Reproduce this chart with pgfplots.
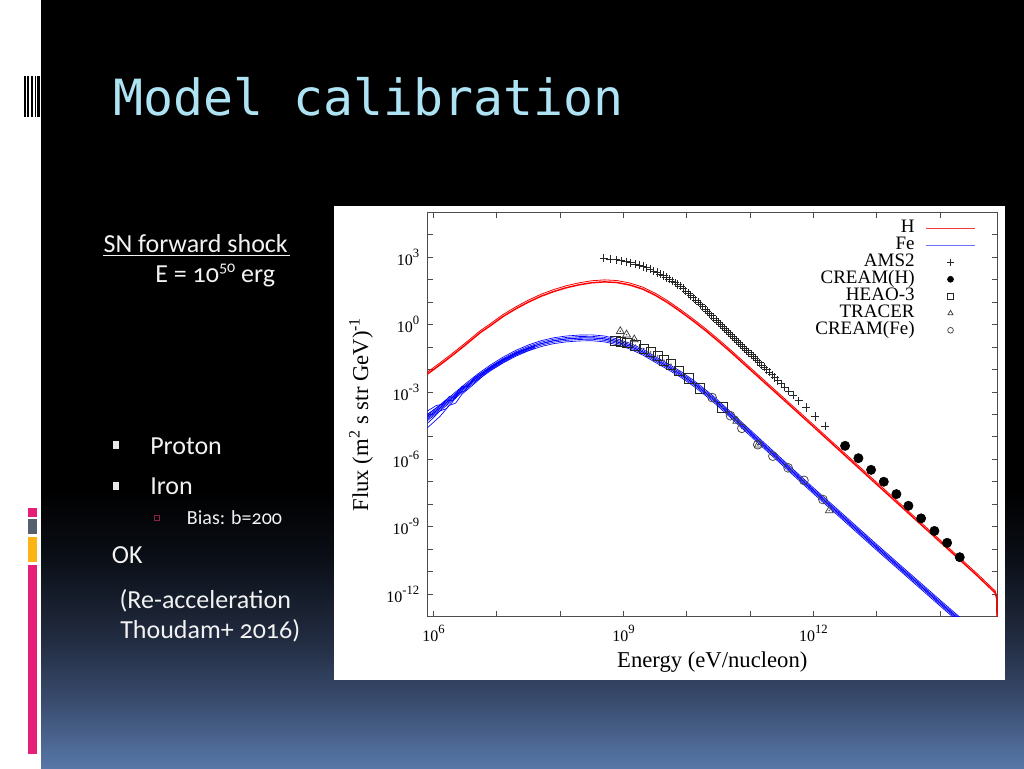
\documentclass[border=0pt]{standalone}
\usepackage{fontspec}
\setmainfont{Carlito}[Numbers=OldStyle]
\newfontfamily\tms{Liberation Serif}
\newfontfamily\mono{DejaVu Sans Mono}
\usepackage{pgfplots}
\usepackage{pgfplotstable}
\pgfplotsset{compat=1.18}

\definecolor{ttl}{HTML}{AEE3F4}
\definecolor{bgA}{HTML}{0B0F17}
\definecolor{bgB}{HTML}{222C41}
\definecolor{bgC}{HTML}{394B6D}
\definecolor{bgD}{HTML}{5777A8}
\definecolor{pnk}{HTML}{E61E78}
\definecolor{gry}{HTML}{555F6E}
\definecolor{ylw}{HTML}{FBB414}
\definecolor{txt}{HTML}{F2F2F2}
\definecolor{mrn}{HTML}{8B2040}
\definecolor{legR}{HTML}{F03C3C}
\definecolor{legB}{HTML}{6E6EFF}

% tick label with a gnuplot-like raised exponent
\newcommand{\tl}[1]{10\raisebox{0.5em}{\fontsize{9.5}{10}\selectfont #1}}

\pgfplotsset{
  lineleg/.style={legend image code/.code={\draw[#1,line width=0.9pt] (0pt,0pt) -- (37pt,0pt);}},
  markleg/.style={legend image code/.code={\draw[mark repeat=2,mark phase=2,##1,every mark/.append style={scale=#1}] plot coordinates {(0pt,0pt) (18.5pt,0pt) (37pt,0pt)};}},
}

% model curves
\pgfplotstableread{
E F
8.0e5 6.17e-3
1.26e6 1.58e-2
2.00e6 4.27e-2
3.16e6 1.20e-1
5.50e6 4.37e-1
7.94e6 8.91e-1
1.26e7 2.29
2.00e7 5.01
3.16e7 1.00e1
5.01e7 1.82e1
7.94e7 2.95e1
1.26e8 4.37e1
2.00e8 5.89e1
3.16e8 7.24e1
5.01e8 7.94e1
7.94e8 7.41e1
1.26e9 5.75e1
2.00e9 3.80e1
3.16e9 2.04e1
5.01e9 9.33
7.94e9 3.80
1.26e10 1.45
2.00e10 5.25e-1
3.16e10 1.78e-1
5.01e10 5.75e-2
7.94e10 1.78e-2
1.26e11 5.50e-3
2.51e11 9.55e-4
1.0e12 2.82e-5
1.0e13 7.59e-8
1.0e14 2.09e-10
3.98e14 6.03e-12
7.41e14 1.12e-12
7.85e14 6.31e-13
8.0e14 1.0e-14
}\tabH

\pgfplotstableread{
E F
8.0e5 7.08e-5
1.26e6 1.91e-4
2.00e6 5.62e-4
3.16e6 1.66e-3
5.01e6 4.68e-3
7.94e6 1.17e-2
1.26e7 2.63e-2
2.00e7 5.25e-2
3.16e7 9.12e-2
5.01e7 1.41e-1
7.94e7 1.91e-1
1.26e8 2.29e-1
2.00e8 2.51e-1
3.16e8 2.57e-1
5.01e8 2.29e-1
7.94e8 1.70e-1
1.26e9 1.10e-1
2.00e9 6.03e-2
3.16e9 2.82e-2
5.01e9 1.35e-2
7.94e9 6.17e-3
1.26e10 2.51e-3
1.78e10 1.17e-3
2.51e10 5.37e-4
3.98e10 1.66e-4
6.31e10 5.01e-5
1.0e11 1.51e-5
1.0e12 3.98e-8
1.0e13 1.20e-10
1.0e14 3.98e-13
7.94e14 2.51e-15
}\tabFe

% low-energy spread of the Fe curves
\pgfplotstableread{
E F
8.0e5 3.98e-5
1.0e6 7.08e-5
1.26e6 1.41e-4
1.58e6 1.78e-4
2.00e6 3.55e-4
2.51e6 8.91e-4
3.16e6 1.12e-3
3.98e6 2.82e-3
5.01e6 3.55e-3
6.31e6 7.08e-3
1.0e7 1.66e-2
2.00e7 5.01e-2
3.98e7 1.05e-1
}\tabWa
\pgfplotstableread{
E F
8.0e5 1.41e-4
1.12e6 2.51e-4
1.41e6 2.82e-4
1.78e6 6.31e-4
2.24e6 5.01e-4
2.82e6 1.78e-3
3.55e6 1.78e-3
4.47e6 4.47e-3
6.31e6 8.32e-3
1.0e7 1.91e-2
2.00e7 5.62e-2
3.98e7 1.17e-1
}\tabWb
\pgfplotstableread{
E F
8.0e5 2.51e-5
1.26e6 7.94e-5
1.78e6 2.51e-4
2.24e6 3.16e-4
2.82e6 7.94e-4
3.98e6 1.78e-3
5.01e6 3.16e-3
7.08e6 7.59e-3
1.0e7 1.41e-2
2.00e7 4.37e-2
3.98e7 8.91e-2
}\tabWc
\pgfplotstableread{
E F
8.0e5 1.0e-4
1.26e6 2.51e-4
1.58e6 4.47e-4
2.00e6 3.98e-4
2.51e6 1.26e-3
3.55e6 2.00e-3
4.47e6 3.80e-3
5.62e6 5.62e-3
7.94e6 1.20e-2
1.26e7 2.82e-2
2.51e7 6.61e-2
3.98e7 1.12e-1
}\tabWd

% data
\pgfplotstableread{
E F
4.90e8 9.12e2
6.19e8 8.32e2
7.61e8 7.71e2
9.23e8 6.92e2
1.10e9 6.17e2
1.30e9 5.62e2
1.52e9 4.90e2
1.76e9 4.32e2
2.03e9 3.80e2
2.33e9 3.39e2
2.65e9 2.88e2
3.00e9 2.43e2
3.39e9 2.07e2
3.81e9 1.77e2
4.27e9 1.51e2
4.77e9 1.25e2
5.31e9 1.04e2
5.90e9 8.61e1
6.54e9 7.21e1
7.23e9 6.04e1
7.97e9 5.07e1
8.78e9 3.97e1
9.65e9 3.12e1
1.06e10 2.44e1
1.16e10 1.94e1
1.26e10 1.56e1
1.38e10 1.24e1
1.50e10 9.84
1.64e10 7.76
1.78e10 6.11
1.94e10 4.85
2.10e10 3.85
2.28e10 3.08
2.48e10 2.44
2.68e10 1.96
2.90e10 1.57
3.14e10 1.27
3.39e10 1.02
3.66e10 8.26e-1
3.95e10 6.68e-1
4.26e10 5.41e-1
4.59e10 4.41e-1
4.94e10 3.56e-1
5.32e10 2.90e-1
5.72e10 2.38e-1
6.16e10 1.94e-1
6.63e10 1.58e-1
7.13e10 1.29e-1
7.67e10 1.05e-1
8.25e10 8.59e-2
8.88e10 7.00e-2
9.55e10 5.70e-2
1.03e11 4.62e-2
1.11e11 3.78e-2
1.20e11 3.10e-2
1.29e11 2.50e-2
1.40e11 2.01e-2
1.52e11 1.59e-2
1.66e11 1.26e-2
1.82e11 9.77e-3
2.00e11 7.57e-3
2.21e11 5.81e-3
2.45e11 4.39e-3
2.74e11 3.24e-3
3.09e11 2.33e-3
3.53e11 1.63e-3
4.08e11 1.09e-3
4.80e11 7.05e-4
5.88e11 4.06e-4
7.61e11 2.00e-4
1.07e12 7.96e-5
1.53e12 3.01e-5
}\tabAMS

\pgfplotstableread{
E F
3.16e12 3.98e-6
5.13e12 1.12e-6
8.13e12 3.39e-7
1.29e13 1.00e-7
2.04e13 2.82e-8
3.16e13 8.51e-9
5.01e13 2.34e-9
8.13e13 6.46e-10
1.29e14 1.91e-10
2.04e14 4.37e-11
}\tabCH

\pgfplotstableread{
E F
7.41e8 1.86e-1
9.12e8 1.70e-1
1.15e9 1.55e-1
1.55e9 1.20e-1
2.09e9 8.51e-2
2.69e9 6.03e-2
3.47e9 3.98e-2
4.37e9 2.57e-2
5.62e9 1.70e-2
7.59e9 8.51e-3
1.07e10 4.07e-3
1.62e10 1.45e-3
3.63e10 2.04e-4
}\tabHEAO

\pgfplotstableread{
E F
8.91e8 5.01e-1
1.12e9 3.55e-1
1.48e9 2.14e-1
6.17e10 5.13e-5
1.35e11 4.47e-6
1.78e12 5.25e-9
}\tabTR

\pgfplotstableread{
E F
2.51e10 5.62e-4
4.90e10 8.71e-5
7.41e10 2.40e-5
1.32e11 4.47e-6
2.29e11 1.38e-6
3.98e11 4.17e-7
7.08e11 1.15e-7
1.41e12 1.62e-8
}\tabCFe

\begin{document}
\begin{tikzpicture}[x=0.75pt,y=0.75pt]
\useasboundingbox (0,0) rectangle (1024,768);
% slide background
\fill[white] (0,0) rectangle (1024,768);
\fill[black] (41,278) rectangle (1024,768);
\shade[top color=black,bottom color=bgA] (41,207.8) rectangle (1024,278.2);
\shade[top color=bgA,bottom color=bgB] (41,127.8) rectangle (1024,208.2);
\shade[top color=bgB,bottom color=bgC] (41,67.8) rectangle (1024,128.2);
\shade[top color=bgC,bottom color=bgD] (41,0) rectangle (1024,68.2);
% left strip decorations
\foreach \a/\b in {24/25.5,27.3/29,30.7/33.3,34.7/35.7,37.3/40}
  \fill[black] (\a,651) rectangle (\b,692);
\fill[pnk] (28.3,251.3) rectangle (36.7,259.7);
\fill[gry] (28.3,234) rectangle (36.7,248.7);
\fill[ylw] (28.3,206) rectangle (36.7,230.7);
\fill[pnk] (28.3,13.7) rectangle (36.7,202.7);

% title
\node[anchor=base west,inner sep=0pt,text=ttl,font=\mono\fontsize{37.4}{40}\selectfont]
  at (113,652) {Model calibration};

% left text
\begin{scope}[every node/.style={anchor=base west,inner sep=0pt,text=txt,font=\fontsize{19.5}{23}\selectfont}]
\node at (103.3,515.5) {SN forward shock};
\draw[txt,line width=1pt] (103.3,512.5) -- (290,512.5);
\node at (155,485) {E = 10\raisebox{0.42em}{\fontsize{12}{13}\selectfont 50} erg};
\fill[txt!90!gray] (113,318.5) rectangle (119,327);
\node at (150,313.6) {Proton};
\fill[txt!90!gray] (113,278) rectangle (119,286);
\node at (150,273) {Iron};
\draw[mrn,line width=0.9pt] (154.5,247.5) rectangle (159.5,252.5);
\node[font=\fontsize{15}{18}\selectfont] at (186.7,243.5) {Bias: b=200};
\node at (111.7,204.3) {OK};
\node at (119.3,160) {(Re-acceleration};
\node at (120,130) {Thoudam+ 2016)};
\end{scope}

% chart image
\fill[white] (334,88) rectangle (1005,562);
\coordinate (axpos) at (427.3,151.5);

\begin{axis}[
  at={(axpos)}, anchor=south west,
  scale only axis, width=427.5pt, height=303.2pt,
  xmode=log, ymode=log,
  xmin=8e5, xmax=8e14, ymin=1e-13, ymax=1e5,
  xminorticks=false, yminorticks=false,
  xtick={1e6,1e7,1e8,1e9,1e10,1e11,1e12,1e13,1e14},
  xticklabels={{\tl{6}},{},{},{\tl{9}},{},{},{\tl{12}},{},{}},
  ytick={1e-13,1e-12,1e-11,1e-10,1e-9,1e-8,1e-7,1e-6,1e-5,1e-4,1e-3,1e-2,1e-1,1e0,1e1,1e2,1e3,1e4,1e5},
  yticklabels={{},{\tl{-12}},{},{},{\tl{-9}},{},{},{\tl{-6}},{},{},{\tl{-3}},{},{},{\tl{0}},{},{},{\tl{3}},{},{}},
  tick align=inside,
  major tick length=4pt,
  axis line style={draw=black!70,line width=0.8pt},
  every tick/.style={black!70,line width=0.6pt},
  tick label style={font=\tms\fontsize{12}{13}\selectfont,text=black},
  yticklabel style={xshift=-2.5pt},
  xticklabel style={anchor=base,yshift=-18.8pt},
  xlabel={Energy (eV/nucleon)},
  ylabel={Flux (m\textsuperscript{2} s str GeV)\textsuperscript{-1}},
  every axis x label/.style={at={(axis description cs:0.5,-0.1257)},anchor=base,
    font=\tms\fontsize{17}{20}\selectfont,text=black},
  every axis y label/.style={at={(axis description cs:-0.104,0.5)},rotate=90,anchor=base,
    font=\tms\fontsize{17}{20}\selectfont,text=black},
  legend plot pos=right,
  legend cell align=right,
  legend style={at={(0.9627,0.982)},anchor=north east,draw=none,fill=none,
    font=\tms\fontsize{14.25}{16}\selectfont,inner sep=0pt,column sep=8pt,row sep=0pt,
    nodes={inner sep=0pt,text height=9.5pt,text depth=3.25pt}},
]
% H model
\addplot[red,line width=1.1pt,lineleg=legR] table {\tabH};
\addlegendentry{H}
% Fe model
\addplot[blue,line width=0.8pt,lineleg=legB] table {\tabFe};
\addlegendentry{Fe}
% the other realisations of both models
\addplot[red,line width=0.6pt,yshift=1.5pt,forget plot] table {\tabH};
\addplot[blue,line width=0.5pt,yshift=2.2pt,forget plot] table {\tabFe};
\addplot[blue,line width=0.5pt,yshift=1.1pt,forget plot] table {\tabFe};
\addplot[blue,line width=0.5pt,yshift=-1.1pt,forget plot] table {\tabFe};
\addplot[blue,line width=0.5pt,yshift=-2.2pt,forget plot] table {\tabFe};
\addplot[blue,line width=0.5pt,forget plot] table {\tabWa};
\addplot[blue,line width=0.5pt,forget plot] table {\tabWb};
\addplot[blue,line width=0.5pt,forget plot] table {\tabWc};
\addplot[blue,line width=0.5pt,forget plot] table {\tabWd};
% data
\addplot[only marks,mark=+,mark size=3.1pt,mark options={black!85,line width=0.6pt},markleg=0.9] table {\tabAMS};
\addlegendentry{AMS2}
\addplot[only marks,mark=*,mark size=3.5pt,mark options={black,fill=black},markleg=0.65] table {\tabCH};
\addlegendentry{CREAM(H)}
\addplot[only marks,mark=square,mark size=3.5pt,mark options={black!85,line width=0.55pt},markleg=0.6] table {\tabHEAO};
\addlegendentry{HEAO-3}
\addplot[only marks,mark=triangle,mark size=3.4pt,mark options={black!75,line width=0.55pt},markleg=0.65] table {\tabTR};
\addlegendentry{TRACER}
\addplot[only marks,mark=o,mark size=3.3pt,mark options={black!75,line width=0.55pt},markleg=0.65] table {\tabCFe};
\addlegendentry{CREAM(Fe)}
\addplot[only marks,mark=*,mark size=0.35pt,mark options={black!70},forget plot] table {\tabHEAO};
\addplot[only marks,mark=*,mark size=0.35pt,mark options={black!70},forget plot] table {\tabTR};
\addplot[only marks,mark=*,mark size=0.35pt,mark options={black!70},forget plot] table {\tabCFe};
\end{axis}
\end{tikzpicture}
\end{document}
